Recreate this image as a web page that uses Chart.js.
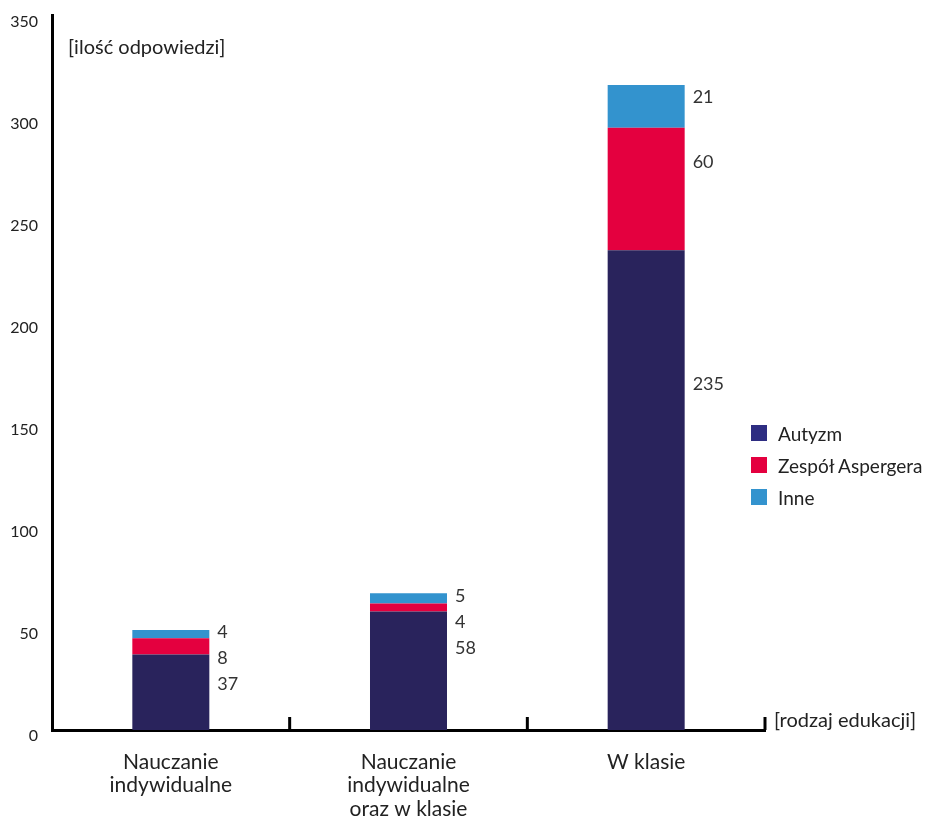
<!DOCTYPE html>
<html>
<head>
<meta charset="utf-8">
<script src="https://cdn.jsdelivr.net/npm/chart.js@4.4.0/dist/chart.umd.min.js"></script>
<style>
  body { margin: 0; background: #fff; font-family: Lato, 'Open Sans', sans-serif; }
  #wrap { position: relative; width: 930px; height: 821px; }
  #legend { position: absolute; left: 751px; top: 417px; }
  .item { display: flex; align-items: center; height: 32px; font-size: 19px; color: #222; }
  .box { width: 16px; height: 16px; margin-right: 11px; }
</style>
</head>
<body>
<div id="wrap">
  <canvas id="chart" width="930" height="821"></canvas>
  <div id="legend"></div>
</div>
<script>
const categories = [['Nauczanie', 'indywidualne'], ['Nauczanie', 'indywidualne', 'oraz w klasie'], 'W klasie'];
const seriesNames = ['Autyzm', 'Zespół Aspergera', 'Inne'];
const autyzm = [37, 58, 235];
const asperger = [8, 4, 60];
const inne = [4, 5, 21];
const yTicks = [0, 50, 100, 150, 200, 250, 300, 350];

const colors = ['#29235c', '#e4003f', '#3393ce'];
const legendColors = ['#2e2d82', '#e4003f', '#3393ce'];

// Value labels to the right of each bar, pushed down so they don't overlap
const valueLabels = {
    id: 'valueLabels',
    afterDatasetsDraw(chart) {
        const ctx = chart.ctx;
        ctx.save();
        ctx.font = '18px Lato, sans-serif';
        ctx.fillStyle = '#333';
        ctx.textAlign = 'left';
        ctx.textBaseline = 'middle';
        const n = chart.data.labels.length;
        for (let i = 0; i < n; i++) {
            let prevY = null;
            for (let d = chart.data.datasets.length - 1; d >= 0; d--) {
                const el = chart.getDatasetMeta(d).data[i];
                const h = el.base - el.y;
                let y = el.y + 0.28 * h;
                if (prevY !== null) y = Math.max(y, prevY + 26);
                ctx.fillText(String(chart.data.datasets[d].data[i]), el.x + el.width / 2 + 8, y);
                prevY = y;
            }
        }
        ctx.restore();
    }
};

// Axis titles and small category separators on the x axis
const axisExtras = {
    id: 'axisExtras',
    afterDraw(chart) {
        const ctx = chart.ctx;
        const area = chart.chartArea;
        const x = chart.scales.x;
        ctx.save();
        ctx.strokeStyle = '#000';
        ctx.lineWidth = 3;
        const n = chart.data.labels.length;
        const step = (area.right - area.left) / n;
        for (let i = 1; i <= n; i++) {
            const px = x.getPixelForValue(i - 1) + step / 2;
            ctx.beginPath();
            ctx.moveTo(px, area.bottom);
            ctx.lineTo(px, area.bottom - 13);
            ctx.stroke();
        }
        ctx.font = '20px Lato, sans-serif';
        ctx.fillStyle = '#222';
        ctx.textBaseline = 'middle';
        ctx.textAlign = 'left';
        ctx.fillText('[ilość odpowiedzi]', area.left + 16, area.top + 32);
        ctx.fillText('[rodzaj edukacji]', area.right + 9, area.bottom - 9);
        ctx.restore();
    }
};

new Chart(document.getElementById('chart').getContext('2d'), {
    type: 'bar',
    data: {
        labels: categories,
        datasets: [
            { label: seriesNames[0], data: autyzm, backgroundColor: colors[0] },
            { label: seriesNames[1], data: asperger, backgroundColor: colors[1] },
            { label: seriesNames[2], data: inne, backgroundColor: colors[2] }
        ]
    },
    options: {
        responsive: false,
        animation: false,
        barPercentage: 0.324,
        categoryPercentage: 1,
        layout: { padding: { top: 4, right: 165, left: 4, bottom: 4 } },
        plugins: {
            legend: { display: false },
            tooltip: { enabled: false }
        },
        scales: {
            x: {
                stacked: true,
                grid: { display: false },
                border: { color: '#000', width: 3 },
                afterFit: (scale) => { scale.height = 87; },
                ticks: { color: '#222', font: { size: 21, family: 'Lato', lineHeight: 1.12 }, padding: 12, maxRotation: 0 }
            },
            y: {
                stacked: true,
                min: 0,
                max: 350,
                afterBuildTicks: (scale) => { scale.ticks = yTicks.map(v => ({ value: v })); },
                afterFit: (scale) => { scale.width = 48; },
                grid: { display: false },
                border: { color: '#000', width: 3 },
                ticks: { color: '#222', font: { size: 16, family: 'Lato' }, padding: 6, labelOffset: 6 }
            }
        }
    },
    plugins: [valueLabels, axisExtras]
});

const legendEl = document.getElementById('legend');
seriesNames.forEach((name, i) => {
    const item = document.createElement('div');
    item.className = 'item';
    item.innerHTML = `<span class="box" style="background:${legendColors[i]}"></span><span>${name}</span>`;
    legendEl.appendChild(item);
});
</script>
</body>
</html>
